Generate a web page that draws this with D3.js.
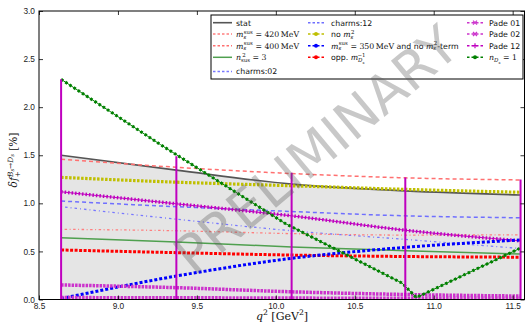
<!DOCTYPE html>
<html>
<head>
<meta charset="utf-8">
<script src="https://cdn.jsdelivr.net/npm/d3@7"></script>
<style>
  body { margin: 0; background: #fff; }
  svg { display: block; }
</style>
</head>
<body>
<svg id="chart" width="527" height="327"></svg>
<script>
// values
const qNodes = [8.64, 9.37, 10.10, 10.82, 11.55];
const statVals = [1.50, 1.345, 1.20, 1.13, 1.087];
const ms420Vals = [0.73, 0.715, 0.685, 0.67, 0.672];
const ms400Vals = [1.458, 1.375, 1.31, 1.265, 1.243];
const nsus3Vals = [0.643, 0.598, 0.547, 0.508, 0.473];
const charms02Vals = [0.965, 0.835, 0.715, 0.625, 0.53];
const charms12Vals = [1.024, 0.965, 0.915, 0.87, 0.85];
const noMs2Vals = [1.27, 1.22, 1.183, 1.145, 1.115];
const ms350Vals = [0.01, 0.244, 0.428, 0.542, 0.619];
const oppMDsVals = [0.515, 0.487, 0.462, 0.447, 0.44];
const pade01Vals = [0.151, 0.123, 0.08, 0.052, 0.036];
const pade02Vals = [0.02, 0.018, 0.015, 0.012, 0.012];
const pade12Vals = [1.12, 0.995, 0.87, 0.72, 0.61];
const nDs1Q = [8.64, 9.27, 10.06, 10.80, 10.89, 11.55];
const nDs1Vals = [2.29, 1.61, 0.79, 0.17, 0.02, 0.535];
const barTops = [2.29, 1.49, 1.318, 1.268, 1.248];
const xTicks = [8.5, 9.0, 9.5, 10.0, 10.5, 11.0, 11.5];
const yTicks = [0.0, 0.5, 1.0, 1.5, 2.0, 2.5, 3.0];

const L = 39, R = 524.5, T = 11, B = 299.5;
const SANS = "DejaVu Sans, sans-serif";
const SERIF = "DejaVu Serif, serif";

const svg = d3.select("#chart");
const x = d3.scaleLinear().domain([8.5, 11.575]).range([L, R]);
const y = d3.scaleLinear().domain([0, 3]).range([B, T]);

const zip = (qs, vs) => qs.map((q, i) => [q, vs[i]]);

// line styles (kept apart from the values)
const series = [
  {key: "stat", vals: statVals, color: "#555555", w: 1.6},
  {key: "ms420", vals: ms420Vals, color: "#ff7f7f", w: 1.3, dash: "1,2.5,2.5,2.5"},
  {key: "ms400", vals: ms400Vals, color: "#ff7070", w: 1.5, dash: "4,3"},
  {key: "nsus3", vals: nsus3Vals, color: "#4fa04f", w: 1.5},
  {key: "charms02", vals: charms02Vals, color: "#7878ff", w: 1.3, dash: "1,3,2.5,3"},
  {key: "charms12", vals: charms12Vals, color: "#6f6fff", w: 1.5, dash: "4,3"},
  {key: "noMs2", vals: noMs2Vals, color: "#bfbf00", w: 3.2, dash: "2.5,1.5", marker: "dot"},
  {key: "ms350", vals: ms350Vals, color: "#0000ff", w: 3, dash: "3,2", marker: "dot"},
  {key: "oppMDs", vals: oppMDsVals, color: "#ff0000", w: 3, dash: "3,1.5", marker: "dot"},
  {key: "pade01", vals: pade01Vals, color: "#cc33cc", w: 3.5, dash: "2.5,1", marker: "x"},
  {key: "pade02", vals: pade02Vals, color: "#cc33cc", w: 3.5, dash: "2.5,1", marker: "x"},
  {key: "pade12", vals: pade12Vals, color: "#bf00bf", w: 3.5, dash: "1.5,2", thin: true, marker: "plus"},
  {key: "nDs1", q: nDs1Q, vals: nDs1Vals, color: "#008000", w: 3, dash: "2.5,2.5", thin: true, marker: "dot", linear: true}
];
const byKey = {};
series.forEach(s => byKey[s.key] = s);

svg.append("defs").append("clipPath").attr("id", "plotclip")
  .append("rect").attr("x", L).attr("y", T).attr("width", R - L).attr("height", B - T);

const plot = svg.append("g").attr("clip-path", "url(#plotclip)");

// grey band under the stat curve
plot.append("path")
  .datum(zip(qNodes, statVals))
  .attr("fill", "#e5e5e5")
  .attr("d", d3.area().curve(d3.curveMonotoneX)
    .x(d => x(d[0])).y0(y(0)).y1(d => y(d[1])));

function styleLine(sel, s, thinOnly) {
  sel.attr("fill", "none").attr("stroke", s.color)
    .attr("stroke-width", thinOnly ? 1 : s.w)
    .attr("stroke-dasharray", thinOnly ? null : (s.dash || null));
}

// draw order: softer lines first, marker lines on top
const order = ["stat", "ms400", "charms12", "charms02", "ms420", "nsus3", "noMs2",
  "pade12", "oppMDs", "ms350", "pade01", "pade02", "nDs1"];
order.forEach(k => {
  const s = byKey[k];
  const pts = zip(s.q || qNodes, s.vals);
  const gen = d3.line().curve(s.linear ? d3.curveLinear : d3.curveMonotoneX)
    .x(d => x(d[0])).y(d => y(d[1]));
  if (s.thin) plot.append("path").datum(pts).call(styleLine, s, true).attr("d", gen);
  plot.append("path").datum(pts).call(styleLine, s, false).attr("d", gen);
});

// vertical magenta bars at the nodes
plot.selectAll("line.bar")
  .data(zip(qNodes, barTops))
  .join("line").attr("class", "bar")
  .attr("x1", d => x(d[0])).attr("x2", d => x(d[0]))
  .attr("y1", y(0)).attr("y2", d => y(d[1]))
  .attr("stroke", "#bf00bf").attr("stroke-width", 2);

// axes with inward ticks on all four sides
const ax = svg.append("g").attr("font-family", SANS);
ax.append("g").attr("transform", `translate(0,${B})`)
  .call(d3.axisBottom(x).tickValues(xTicks).tickFormat(d3.format(".1f")).tickSize(-4).tickPadding(4));
ax.append("g").attr("transform", `translate(0,${T})`)
  .call(d3.axisTop(x).tickValues(xTicks).tickFormat("").tickSize(-4));
ax.append("g").attr("transform", `translate(${L},0)`)
  .call(d3.axisLeft(y).tickValues(yTicks).tickFormat(d3.format(".1f")).tickSize(-4).tickPadding(4));
ax.append("g").attr("transform", `translate(${R},0)`)
  .call(d3.axisRight(y).tickValues(yTicks).tickFormat("").tickSize(-4));
ax.selectAll(".domain").remove();
ax.selectAll(".tick line").attr("stroke", "#000").attr("stroke-width", 0.8);
ax.selectAll(".tick text").attr("font-size", 8.3).attr("fill", "#222");

svg.append("rect").attr("x", L).attr("y", T).attr("width", R - L).attr("height", B - T)
  .attr("fill", "none").attr("stroke", "#000").attr("stroke-width", 1);

// rich text helper: [text, kind, dx]
const KINDS = {
  sf: {off: 0, fs: 1, fam: SANS, st: "normal"},
  mi: {off: 0, fs: 1, fam: SERIF, st: "italic"},
  mr: {off: 0, fs: 1, fam: SERIF, st: "normal"},
  supr: {off: -0.42, fs: 0.7, fam: SERIF, st: "normal"},
  supi: {off: -0.42, fs: 0.7, fam: SERIF, st: "italic"},
  subr: {off: 0.25, fs: 0.7, fam: SERIF, st: "normal"},
  subi: {off: 0.25, fs: 0.7, fam: SERIF, st: "italic"},
  ssub: {off: 0.45, fs: 0.5, fam: SERIF, st: "italic"},
  supsub: {off: -0.25, fs: 0.5, fam: SERIF, st: "italic"}
};
function rich(sel, parts, size) {
  let cur = 0;
  parts.forEach(p => {
    const [t, k, dx] = p;
    const K = KINDS[k], off = K.off * size;
    sel.append("tspan").attr("dy", off - cur).attr("dx", dx || 0)
      .attr("font-size", K.fs * size).attr("font-family", K.fam).attr("font-style", K.st).text(t);
    cur = off;
  });
}

// legend
const legRows = [22.7, 34, 45.7, 57.3, 71.5];
const legCols = [{x0: 213, x1: 232, tx: 236}, {x0: 308, x1: 324, tx: 331}, {x0: 467, x1: 483, tx: 489}];
const legendItems = [
  {key: "stat", c: 0, r: 0, label: [["stat", "sf"]]},
  {key: "ms420", c: 0, r: 1, label: [["m", "mi"], ["s", "subi"], ["sus", "supr", -2.4], [" = 420\u2009MeV", "mr"]]},
  {key: "ms400", c: 0, r: 2, label: [["m", "mi"], ["s", "subi"], ["sus", "supr", -2.4], [" = 400\u2009MeV", "mr"]]},
  {key: "nsus3", c: 0, r: 3, label: [["n", "mi"], ["sus", "subr"], ["2", "supr", -8], [" = 3", "mr", 4.5]]},
  {key: "charms02", c: 0, r: 4, label: [["charms:02", "sf"]]},
  {key: "charms12", c: 1, r: 0, label: [["charms:12", "sf"]]},
  {key: "noMs2", c: 1, r: 1, label: [["no ", "sf"], ["m", "mi"], ["s", "subi"], ["2", "supr", -2.4]]},
  {key: "ms350", c: 1, r: 2, label: [["m", "mi"], ["s", "subi"], ["sus", "supr", -2.4], [" = 350\u2009MeV", "mr"],
    [" and no ", "sf"], ["m", "mi"], ["s", "subi"], ["2", "supr", -2.4], ["-term", "sf"]]},
  {key: "oppMDs", c: 1, r: 3, label: [["opp. ", "sf"], ["m", "mi"], ["D", "subi"], ["s", "ssub"], ["\u22121", "supr", -7]]},
  {key: "pade01", c: 2, r: 0, label: [["Pade 01", "sf"]]},
  {key: "pade02", c: 2, r: 1, label: [["Pade 02", "sf"]]},
  {key: "pade12", c: 2, r: 2, label: [["Pade 12", "sf"]]},
  {key: "nDs1", c: 2, r: 3, label: [["n", "mi"], ["D", "subi"], ["s", "ssub"], [" = 1", "mr"]]}
];

const leg = svg.append("g");
leg.append("rect").attr("x", 211).attr("y", 15).attr("width", 312).attr("height", 64)
  .attr("fill", "#fff").attr("stroke", "#000").attr("stroke-width", 1);

legendItems.forEach(it => {
  const s = byKey[it.key], col = legCols[it.c], ry = legRows[it.r];
  const g = leg.append("g");
  const lw = s.marker ? Math.min(s.w, 1.5) : s.w;
  g.append("line").attr("x1", col.x0).attr("x2", col.x1).attr("y1", ry).attr("y2", ry)
    .attr("stroke", s.color).attr("stroke-width", lw).attr("stroke-dasharray", s.dash ? "2.5,2" : null);
  const cx = (col.x0 + col.x1) / 2;
  if (s.marker === "dot") {
    g.append("circle").attr("cx", cx).attr("cy", ry).attr("r", 2).attr("fill", s.color);
  } else if (s.marker === "x") {
    g.append("path").attr("d", `M${cx - 2},${ry - 2}L${cx + 2},${ry + 2}M${cx - 2},${ry + 2}L${cx + 2},${ry - 2}`)
      .attr("stroke", s.color).attr("stroke-width", 1.2);
  } else if (s.marker === "plus") {
    g.append("path").attr("d", `M${cx - 2.5},${ry}L${cx + 2.5},${ry}M${cx},${ry - 2.5}L${cx},${ry + 2.5}`)
      .attr("stroke", s.color).attr("stroke-width", 1.2);
  }
  const t = g.append("text").attr("x", col.tx).attr("y", ry + 2.8).attr("fill", "#111");
  rich(t, it.label, 7.8);
});

// axis titles
const xl = svg.append("text").attr("x", 282).attr("y", 320).attr("text-anchor", "middle").attr("fill", "#111");
rich(xl, [["q", "mi"], ["2", "supr"], [" [GeV", "mr"], ["2", "supr"], ["]", "mr"]], 11);

const yl = svg.append("text").attr("transform", "translate(17,160) rotate(-90)")
  .attr("text-anchor", "middle").attr("fill", "#111");
rich(yl, [["\u03b4", "mi"], ["f", "mi"], ["+", "subr"], ["B", "supi", -6], ["s", "supsub"], ["\u2192", "supr"],
  ["D", "supi"], ["s", "supsub"], [" [%]", "mr"]], 10.5);

// watermark on top of everything
svg.append("text")
  .attr("transform", "translate(316,150) rotate(-40)")
  .attr("text-anchor", "middle").attr("dominant-baseline", "central")
  .attr("font-family", SANS).attr("font-size", 53)
  .attr("fill", "#555").attr("fill-opacity", 0.32)
  .text("PRELIMINARY");
</script>
</body>
</html>
